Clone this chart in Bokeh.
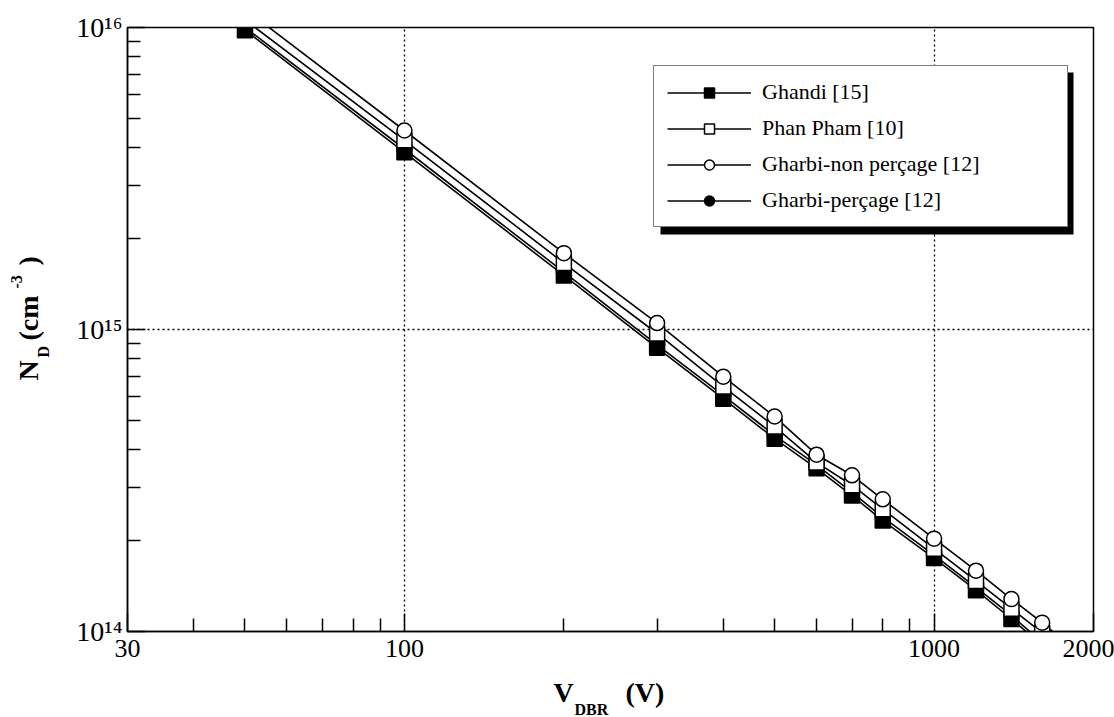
from math import pi
from bokeh.plotting import figure
from bokeh.layouts import row, column
from bokeh.models import (FixedTicker, Legend, LegendItem, Label, BoxAnnotation,
                          Plot, Range1d)
from bokeh.embed import file_html
from bokeh.resources import INLINE

# ---- data ----
v_ghandi = [50, 100, 200, 300, 400, 500, 600, 700, 800, 1000, 1200, 1400, 1600]
n_ghandi = [9.8e15, 3.86e15, 1.51e15, 8.7e14, 5.9e14, 4.35e14, 3.47e14, 2.82e14,
            2.33e14, 1.75e14, 1.37e14, 1.10e14, 9.0e13]

v_phan = [50, 100, 200, 300, 400, 500, 600, 700, 800, 1000, 1200, 1400, 1600, 1800]
n_phan = [1.06e16, 4.23e15, 1.66e15, 9.7e14, 6.47e14, 4.77e14, 3.63e14, 3.05e14,
          2.54e14, 1.88e14, 1.47e14, 1.19e14, 9.9e13, 8.6e13]

v_gnp = [50, 100, 200, 300, 400, 500, 600, 700, 800, 1000, 1200, 1400, 1600, 1800]
n_gnp = [1.15e16, 4.56e15, 1.79e15, 1.05e15, 6.98e14, 5.15e14, 3.85e14, 3.29e14,
         2.74e14, 2.03e14, 1.59e14, 1.28e14, 1.07e14, 9.0e13]

v_gp = [50, 100, 200, 300, 400, 500, 600, 700, 800, 1000, 1200, 1400, 1600]
n_gp = [1.0e16, 3.96e15, 1.55e15, 8.9e14, 6.05e14, 4.46e14, 3.56e14, 2.89e14,
        2.39e14, 1.79e14, 1.40e14, 1.13e14, 9.2e13]

x_ticks = [30, 100, 1000, 2000]
x_tick_labels = ["30", "100", "1000", "2000"]
x_minor = [40, 50, 60, 70, 80, 90, 200, 300, 400, 500, 600, 700, 800, 900]
y_ticks = [1e14, 1e15, 1e16]
y_tick_labels = ["10\u00b9\u2074", "10\u00b9\u2075", "10\u00b9\u2076"]
y_minor = [2e14, 3e14, 4e14, 5e14, 6e14, 7e14, 8e14, 9e14,
           2e15, 3e15, 4e15, 5e15, 6e15, 7e15, 8e15, 9e15]

labels = ["Ghandi [15]", "Phan Pham [10]", "Gharbi-non perçage [12]", "Gharbi-perçage [12]"]

SERIF = "Liberation Serif"
LEFT_W = 64          # width of the strip holding the vertical axis title
MAIN_H = 672         # height of the main plot (the x title strip is below it)

p = figure(width=1114 - LEFT_W, height=MAIN_H, x_axis_type="log", y_axis_type="log",
           x_range=(30, 2000), y_range=(1e14, 1e16),
           output_backend="svg", toolbar_location=None, frame_align=False,
           min_border_left=127 - LEFT_W, min_border_right=21,
           min_border_top=27, min_border_bottom=MAIN_H - 631)
p.background_fill_color = "white"
p.border_fill_color = "white"
p.outline_line_color = "black"
p.outline_line_width = 1.5

# axes
xa = p.xaxis[0]
xa.ticker = FixedTicker(ticks=x_ticks, minor_ticks=x_minor)
xa.major_label_overrides = dict(zip(x_ticks, x_tick_labels))
ya = p.yaxis[0]
ya.ticker = FixedTicker(ticks=y_ticks, minor_ticks=y_minor)
ya.major_label_overrides = dict(zip(y_ticks, y_tick_labels))
for ax in (xa, ya):
    ax.axis_line_color = "black"
    ax.axis_line_width = 1.5
    ax.major_tick_line_color = "black"
    ax.minor_tick_line_color = "black"
    ax.major_tick_line_width = 1.5
    ax.minor_tick_line_width = 1.5
    ax.major_tick_in = 18
    ax.major_tick_out = 0
    ax.minor_tick_in = 13
    ax.minor_tick_out = 0
    ax.major_label_text_font = SERIF
    ax.major_label_text_color = "black"
xa.major_label_text_font_size = "26px"
xa.major_label_standoff = 8
ya.major_label_text_font_size = "28px"
ya.major_label_standoff = 5

# grid
p.xgrid.ticker = FixedTicker(ticks=[100, 1000])
p.ygrid.ticker = FixedTicker(ticks=[1e15])
for g in (p.xgrid[0], p.ygrid[0]):
    g.grid_line_color = "black"
    g.grid_line_width = 1.3
    g.grid_line_dash = "2 3"

# lines
lw = 1.6
l_gp = p.line(v_gp, n_gp, line_color="black", line_width=lw)
l_gh = p.line(v_ghandi, n_ghandi, line_color="black", line_width=lw)
l_ph = p.line(v_phan, n_phan, line_color="black", line_width=lw)
l_gnp = p.line(v_gnp, n_gnp, line_color="black", line_width=lw)

ms = 15
m_gp = p.scatter(v_gp, n_gp, marker="circle", size=ms, fill_color="black", line_color="black", line_width=1.5)
m_gh = p.scatter(v_ghandi, n_ghandi, marker="square", size=ms, fill_color="black", line_color="black", line_width=1.5)
m_ph = p.scatter(v_phan, n_phan, marker="square", size=ms, fill_color="white", line_color="black", line_width=1.5)
m_gnp = p.scatter(v_gnp, n_gnp, marker="circle", size=ms, fill_color="white", line_color="black", line_width=1.5)

# legend shadow (screen units relative to the frame's bottom-left)
shadow = BoxAnnotation(left=533, right=946, top=559, bottom=397,
                       left_units="screen", right_units="screen",
                       top_units="screen", bottom_units="screen",
                       fill_color="black", fill_alpha=1.0, line_color=None)
p.add_layout(shadow)

legend = Legend(items=[
    LegendItem(label=labels[0], renderers=[l_gh, m_gh]),
    LegendItem(label=labels[1], renderers=[l_ph, m_ph]),
    LegendItem(label=labels[2], renderers=[l_gnp, m_gnp]),
    LegendItem(label=labels[3], renderers=[l_gp, m_gp]),
], location=(526, 404))
legend.label_text_font = SERIF
legend.label_text_font_size = "22px"
legend.label_text_color = "black"
legend.glyph_width = 84
legend.glyph_height = 25
legend.label_height = 25
legend.label_width = 292
legend.label_standoff = 11
legend.spacing = 10
legend.padding = 13
legend.margin = 0
legend.border_line_color = "black"
legend.border_line_width = 1.5
legend.background_fill_color = "white"
legend.background_fill_alpha = 1.0
p.add_layout(legend, "center")


def strip(w, h, xr, yr):
    f = Plot(width=w, height=h, x_range=Range1d(*xr), y_range=Range1d(*yr),
             output_backend="svg", toolbar_location=None, title=None,
             frame_align=False,
             min_border=0, min_border_left=0, min_border_right=0,
             min_border_top=0, min_border_bottom=0,
             outline_line_color=None, background_fill_color="white",
             border_fill_color="white")
    return f


def lab(f, text, x, y, size, angle=0.0):
    f.add_layout(Label(x=x, y=y, text=text,
                       text_font=SERIF, text_font_style="bold", text_font_size=size,
                       text_color="black", text_align="left", text_baseline="alphabetic",
                       angle=angle))


# vertical axis title strip
yt = strip(LEFT_W, 717, (0, LEFT_W), (0, 717))
lab(yt, "N", 28, 337, "28px", pi / 2)
lab(yt, "D", 43, 360, "16px", pi / 2)
lab(yt, "(cm", 28, 377, "28px", pi / 2)
lab(yt, "-3", 16, 429, "16px", pi / 2)
lab(yt, ")", 28, 452, "28px", pi / 2)

# horizontal axis title strip
xt = strip(1114 - LEFT_W, 717 - MAIN_H, (LEFT_W, 1114), (0, 717 - MAIN_H))
lab(xt, "V", 553, 25, "28px")
lab(xt, "DBR", 574, 8, "16px")
lab(xt, "(V)", 625, 25, "28px")

layout = row(yt, column(p, xt, spacing=0), spacing=0)

open("out.html", "w").write(file_html(layout, INLINE))
